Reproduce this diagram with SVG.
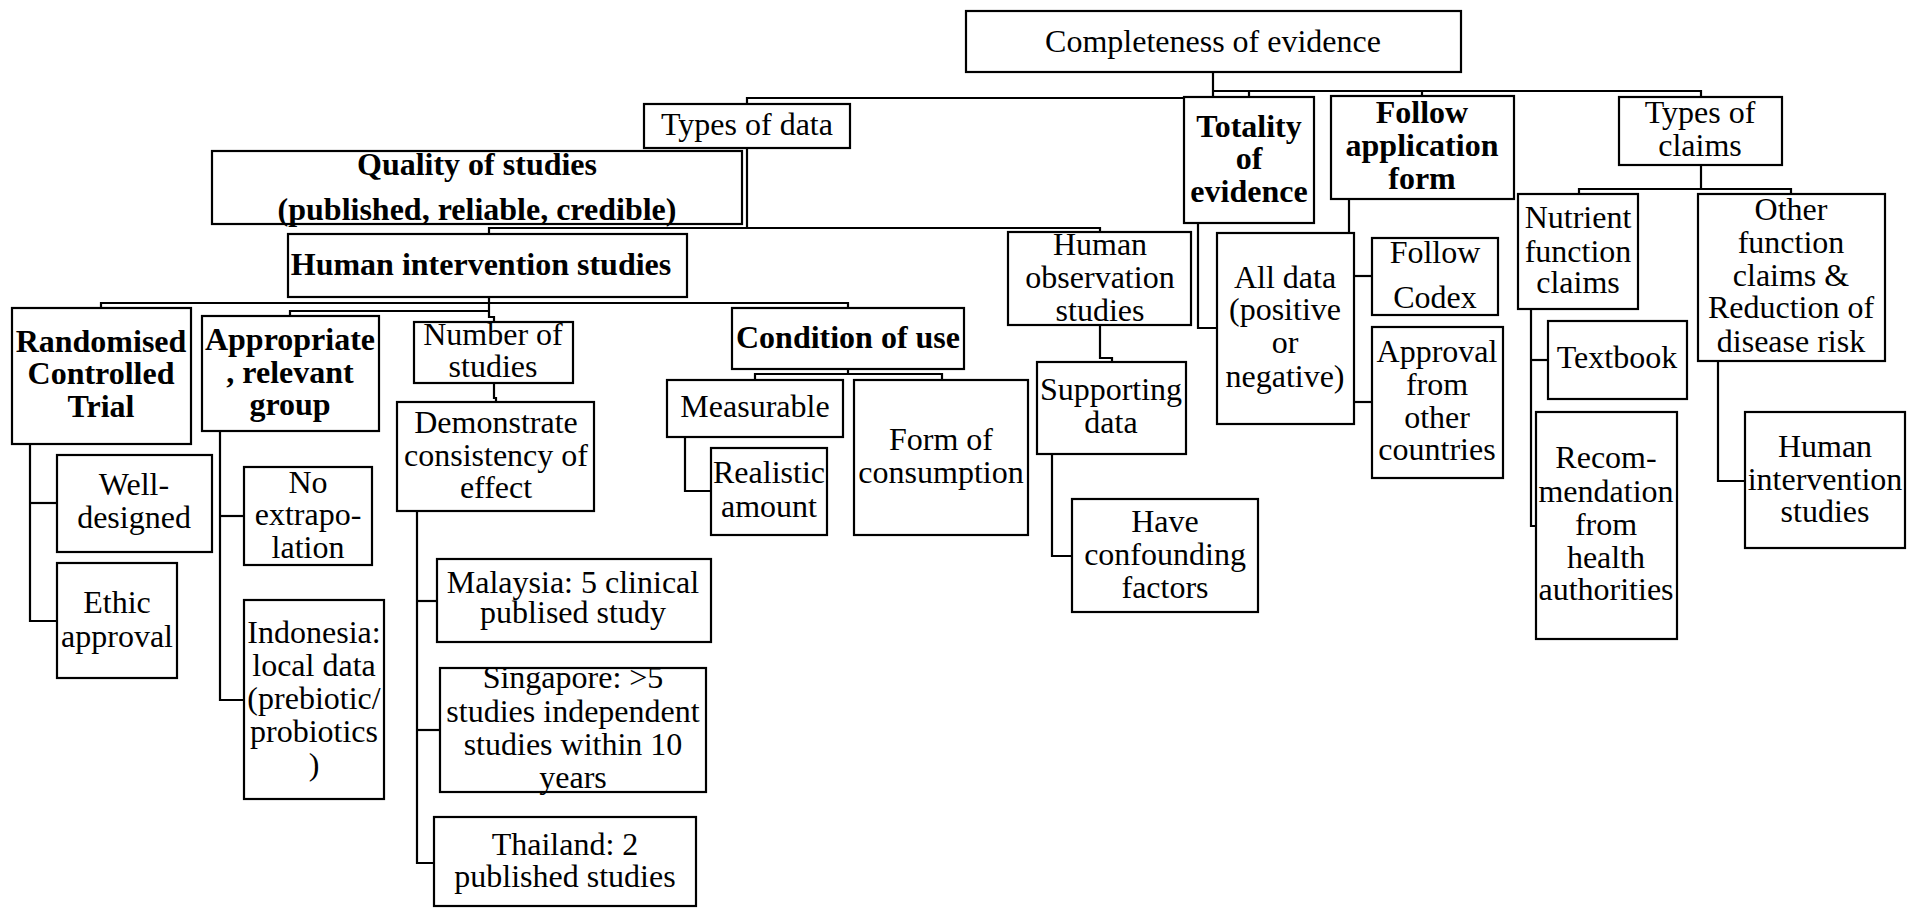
<svg xmlns="http://www.w3.org/2000/svg" width="1925" height="908" viewBox="0 0 1925 908">
  <style>
    .box { fill: #ffffff; stroke: #000000; stroke-width: 2.2; }
    .wire { fill: none; stroke: #000000; stroke-width: 2.2; }
    text { font-family: "Liberation Serif", "Times New Roman", serif; font-size: 32px; fill: #000000; text-anchor: middle; }
    .b { font-weight: bold; }
  </style>
  <rect x="0" y="0" width="1925" height="908" fill="#ffffff"/>

  <!-- connectors -->
  <g id="connectors">
    <path class="wire" d="M1213,72 V98 H747 V104"/>
    <path class="wire" d="M1213,91 H1701 V97"/>
    <path class="wire" d="M1249,91 V97"/>
    <path class="wire" d="M1422,91 V96"/>
    <path class="wire" d="M747,148 V228"/>
    <path class="wire" d="M489,234 V228 H1100 V232"/>
    <path class="wire" d="M489,297 V317 H494 V322"/>
    <path class="wire" d="M101,308 V303 H848 V308"/>
    <path class="wire" d="M290,316 V311 H489"/>
    <path class="wire" d="M30,444 V621 H57"/>
    <path class="wire" d="M30,503 H57"/>
    <path class="wire" d="M220,431 V700 H244"/>
    <path class="wire" d="M220,516 H244"/>
    <path class="wire" d="M494,383 V398 H496 V402"/>
    <path class="wire" d="M417,511 V863 H434"/>
    <path class="wire" d="M417,601 H437"/>
    <path class="wire" d="M417,730 H440"/>
    <path class="wire" d="M848,369 V374"/>
    <path class="wire" d="M755,380 V374 H942 V380"/>
    <path class="wire" d="M685,437 V491 H711"/>
    <path class="wire" d="M1100,325 V358 H1112 V362"/>
    <path class="wire" d="M1052,454 V556 H1072"/>
    <path class="wire" d="M1198,223 V328 H1217"/>
    <path class="wire" d="M1349,199 V233"/>
    <path class="wire" d="M1354,276 H1372"/>
    <path class="wire" d="M1354,402 H1372"/>
    <path class="wire" d="M1701,165 V189"/>
    <path class="wire" d="M1579,194 V189 H1791 V194"/>
    <path class="wire" d="M1531,309 V526 H1536"/>
    <path class="wire" d="M1531,360 H1548"/>
    <path class="wire" d="M1718,361 V481 H1745"/>
  </g>

  <!-- top level -->
  <g id="completeness">
    <rect class="box" x="966" y="11" width="495" height="61"/>
    <text x="1213" y="52">Completeness of evidence</text>
  </g>
  <g id="types-of-data">
    <rect class="box" x="644" y="104" width="206" height="44"/>
    <text x="747" y="135">Types of data</text>
  </g>
  <g id="quality">
    <rect class="box" x="212" y="151" width="530" height="73"/>
    <text class="b" x="477" y="175">Quality of studies</text>
    <text class="b" x="477" y="220">(published, reliable, credible)</text>
  </g>
  <g id="human-intervention">
    <rect class="box" x="288" y="234" width="399" height="63"/>
    <text class="b" x="481" y="275">Human intervention studies</text>
  </g>
  <g id="totality">
    <rect class="box" x="1184" y="97" width="130" height="126"/>
    <text class="b" x="1249" y="137">Totality</text>
    <text class="b" x="1249" y="169">of</text>
    <text class="b" x="1249" y="202">evidence</text>
  </g>
  <g id="follow-application">
    <rect class="box" x="1331" y="96" width="183" height="103"/>
    <text class="b" x="1422" y="123">Follow</text>
    <text class="b" x="1422" y="156">application</text>
    <text class="b" x="1422" y="189">form</text>
  </g>
  <g id="types-of-claims">
    <rect class="box" x="1619" y="97" width="163" height="68"/>
    <text x="1700" y="123">Types of</text>
    <text x="1700" y="156">claims</text>
  </g>

  <!-- human intervention branch -->
  <g id="rct">
    <rect class="box" x="12" y="308" width="179" height="136"/>
    <text class="b" x="101" y="352">Randomised</text>
    <text class="b" x="101" y="384">Controlled</text>
    <text class="b" x="101" y="417">Trial</text>
  </g>
  <g id="well-designed">
    <rect class="box" x="57" y="455" width="155" height="97"/>
    <text x="134" y="495">Well-</text>
    <text x="134" y="528">designed</text>
  </g>
  <g id="ethic">
    <rect class="box" x="57" y="563" width="120" height="115"/>
    <text x="117" y="613">Ethic</text>
    <text x="117" y="647">approval</text>
  </g>
  <g id="appropriate">
    <rect class="box" x="202" y="316" width="177" height="115"/>
    <text class="b" x="290" y="350">Appropriate</text>
    <text class="b" x="290" y="383">, relevant</text>
    <text class="b" x="290" y="415">group</text>
  </g>
  <g id="no-extrapolation">
    <rect class="box" x="244" y="467" width="128" height="98"/>
    <text x="308" y="493">No</text>
    <text x="308" y="525">extrapo-</text>
    <text x="308" y="558">lation</text>
  </g>
  <g id="indonesia">
    <rect class="box" x="244" y="600" width="140" height="199"/>
    <text x="314" y="643">Indonesia:</text>
    <text x="314" y="676">local data</text>
    <text x="314" y="709">(prebiotic/</text>
    <text x="314" y="742">probiotics</text>
    <text x="314" y="775">)</text>
  </g>
  <g id="number-of-studies">
    <rect class="box" x="414" y="322" width="159" height="61"/>
    <text x="493" y="345">Number of</text>
    <text x="493" y="377">studies</text>
  </g>
  <g id="consistency">
    <rect class="box" x="397" y="402" width="197" height="109"/>
    <text x="496" y="433">Demonstrate</text>
    <text x="496" y="466">consistency of</text>
    <text x="496" y="498">effect</text>
  </g>
  <g id="malaysia">
    <rect class="box" x="437" y="559" width="274" height="83"/>
    <text x="573" y="593">Malaysia: 5 clinical</text>
    <text x="573" y="623">publised study</text>
  </g>
  <g id="singapore">
    <rect class="box" x="440" y="668" width="266" height="124"/>
    <text x="573" y="688">Singapore: &gt;5</text>
    <text x="573" y="722">studies independent</text>
    <text x="573" y="755">studies within 10</text>
    <text x="573" y="788">years</text>
  </g>
  <g id="thailand">
    <rect class="box" x="434" y="817" width="262" height="89"/>
    <text x="565" y="855">Thailand: 2</text>
    <text x="565" y="887">published studies</text>
  </g>
  <g id="condition-of-use">
    <rect class="box" x="732" y="308" width="232" height="61"/>
    <text class="b" x="848" y="348">Condition of use</text>
  </g>
  <g id="measurable">
    <rect class="box" x="667" y="380" width="176" height="57"/>
    <text x="755" y="417">Measurable</text>
  </g>
  <g id="realistic-amount">
    <rect class="box" x="711" y="448" width="116" height="87"/>
    <text x="769" y="483">Realistic</text>
    <text x="769" y="517">amount</text>
  </g>
  <g id="form-of-consumption">
    <rect class="box" x="854" y="380" width="174" height="155"/>
    <text x="941" y="450">Form of</text>
    <text x="941" y="483">consumption</text>
  </g>

  <!-- human observation branch -->
  <g id="human-observation">
    <rect class="box" x="1008" y="232" width="183" height="93"/>
    <text x="1100" y="255">Human</text>
    <text x="1100" y="288">observation</text>
    <text x="1100" y="321">studies</text>
  </g>
  <g id="supporting-data">
    <rect class="box" x="1037" y="362" width="149" height="92"/>
    <text x="1111" y="400">Supporting</text>
    <text x="1111" y="433">data</text>
  </g>
  <g id="confounding">
    <rect class="box" x="1072" y="499" width="186" height="113"/>
    <text x="1165" y="532">Have</text>
    <text x="1165" y="565">confounding</text>
    <text x="1165" y="598">factors</text>
  </g>

  <!-- totality / application branch -->
  <g id="all-data">
    <rect class="box" x="1217" y="233" width="137" height="191"/>
    <text x="1285" y="288">All data</text>
    <text x="1285" y="320">(positive</text>
    <text x="1285" y="353">or</text>
    <text x="1285" y="387">negative)</text>
  </g>
  <g id="follow-codex">
    <rect class="box" x="1372" y="238" width="126" height="77"/>
    <text x="1435" y="263">Follow</text>
    <text x="1435" y="308">Codex</text>
  </g>
  <g id="approval-other">
    <rect class="box" x="1372" y="327" width="131" height="151"/>
    <text x="1437" y="362">Approval</text>
    <text x="1437" y="395">from</text>
    <text x="1437" y="428">other</text>
    <text x="1437" y="460">countries</text>
  </g>

  <!-- claims branch -->
  <g id="nutrient-function">
    <rect class="box" x="1518" y="194" width="120" height="115"/>
    <text x="1578" y="228">Nutrient</text>
    <text x="1578" y="262">function</text>
    <text x="1578" y="293">claims</text>
  </g>
  <g id="textbook">
    <rect class="box" x="1548" y="321" width="139" height="78"/>
    <text x="1617" y="368">Textbook</text>
  </g>
  <g id="recommendation">
    <rect class="box" x="1536" y="412" width="141" height="227"/>
    <text x="1606" y="468">Recom-</text>
    <text x="1606" y="502">mendation</text>
    <text x="1606" y="535">from</text>
    <text x="1606" y="568">health</text>
    <text x="1606" y="600">authorities</text>
  </g>
  <g id="other-function">
    <rect class="box" x="1698" y="194" width="187" height="167"/>
    <text x="1791" y="220">Other</text>
    <text x="1791" y="253">function</text>
    <text x="1791" y="286">claims &amp;</text>
    <text x="1791" y="318">Reduction of</text>
    <text x="1791" y="352">disease risk</text>
  </g>
  <g id="human-intervention-claims">
    <rect class="box" x="1745" y="412" width="160" height="136"/>
    <text x="1825" y="457">Human</text>
    <text x="1825" y="490">intervention</text>
    <text x="1825" y="522">studies</text>
  </g>
</svg>
